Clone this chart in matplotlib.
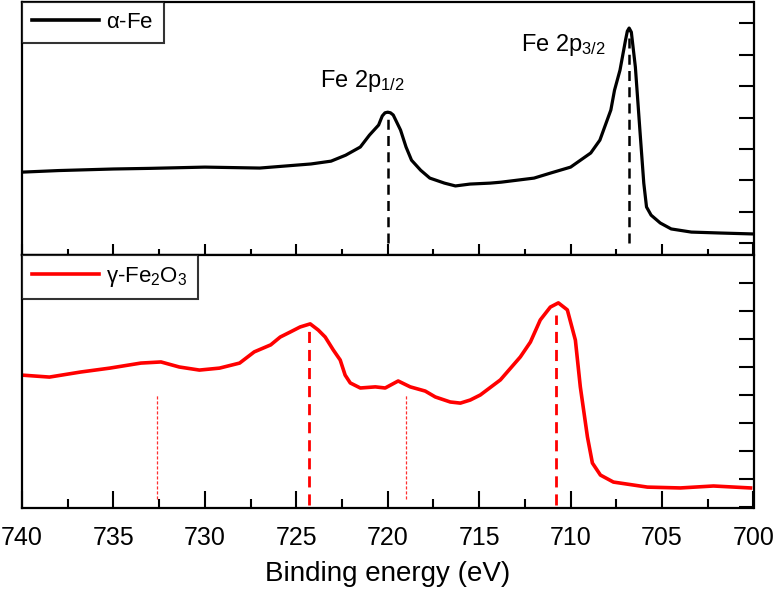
import matplotlib
matplotlib.use("Agg")
import matplotlib.pyplot as plt
from matplotlib.ticker import MultipleLocator

plt.rcParams['font.family'] = ['Liberation Sans', 'DejaVu Sans']
plt.rcParams['mathtext.fontset'] = 'custom'
plt.rcParams['mathtext.rm'] = 'Liberation Sans'
plt.rcParams['mathtext.it'] = 'Liberation Sans'

# alpha-Fe spectrum (binding energy eV, intensity a.u.)
fe_energy = [740.0, 738.0, 735.0, 733.0, 730.0, 727.0, 724.2, 723.1, 722.3, 721.5, 721.0,
             720.5, 720.3, 720.15, 720.0, 719.85, 719.7, 719.3, 719.0, 718.7, 718.2, 717.7, 716.9,
             716.3, 715.5, 714.4, 713.8, 712.0, 711.1, 710.0, 708.9, 708.4, 707.8,
             707.6, 707.3, 707.0, 706.9, 706.8, 706.68, 706.46, 706.2, 706.0, 705.85, 705.6,
             705.1, 704.5, 703.4, 701.8, 700.0]
fe_int = [2.26, 2.31, 2.36, 2.38, 2.42, 2.39, 2.52, 2.61, 2.80, 3.06, 3.44,
          3.76, 4.05, 4.15, 4.17, 4.15, 4.08, 3.60, 3.06, 2.64, 2.32, 2.07, 1.91,
          1.82, 1.88, 1.91, 1.94, 2.07, 2.23, 2.42, 2.87, 3.28, 4.24,
          4.87, 5.51, 6.46, 6.75, 6.85, 6.72, 5.61, 3.50, 1.91, 1.15, 0.89,
          0.64, 0.45, 0.35, 0.32, 0.29]

# gamma-Fe2O3 spectrum
ox_energy = [740.0, 738.5, 736.8, 735.2, 733.5, 732.4, 731.4, 730.3, 729.2, 728.1, 727.3,
             726.4, 725.88, 725.33, 724.79, 724.24, 723.80, 723.42, 722.98, 722.60,
             722.33, 722.05, 721.50, 720.68, 720.14, 719.43, 718.77, 717.95, 717.40,
             716.58, 716.03, 715.49, 714.94, 713.84, 712.75, 712.20, 711.66, 711.11,
             710.67, 710.18, 709.74, 709.47, 709.08, 708.81, 708.37, 707.66, 705.80,
             704.0, 702.19, 700.16]
ox_int = [4.71, 4.64, 4.82, 4.96, 5.14, 5.18, 5.00, 4.89, 4.96, 5.14, 5.54,
          5.79, 6.07, 6.25, 6.43, 6.54, 6.32, 6.07, 5.61, 5.25,
          4.71, 4.43, 4.25, 4.29, 4.25, 4.50, 4.29, 4.14, 3.93,
          3.75, 3.71, 3.82, 4.00, 4.54, 5.36, 5.89, 6.68, 7.14,
          7.29, 7.04, 5.96, 4.29, 2.50, 1.57, 1.14, 0.89, 0.71,
          0.68, 0.75, 0.68]

# reference lines
fe_peaks = [720.0, 706.8]
fe_peak_tops = [4.17, 6.85]
ox_main = [724.3, 710.8]
ox_main_tops = [6.4, 6.86]
ox_sat = [732.6, 719.0]
ox_sat_tops = [4.0, 4.0]

fig = plt.figure(figsize=(7.74, 5.99), dpi=100)
L, R = 22/774, 753.5/774
ax1 = fig.add_axes([L, 1-255/599, R-L, (255-2)/599])
ax2 = fig.add_axes([L, 1-508/599, R-L, (508-255)/599])

for ax in (ax1, ax2):
    ax.set_xlim(740, 700)
    ax.xaxis.set_major_locator(MultipleLocator(5))
    ax.xaxis.set_minor_locator(MultipleLocator(2.5))
    for s in ax.spines.values():
        s.set_linewidth(1.6)
    ax.yaxis.tick_right()
    ax.tick_params(axis='y', which='both', direction='in', length=11, width=1.5,
                   labelright=False, left=False, labelleft=False)

ax1.set_ylim(-0.38, 7.68)
ax1.set_yticks(range(0, 8))
ax2.set_ylim(-0.036, 9.0)
ax2.set_yticks(range(0, 9))

ax1.tick_params(axis='x', which='major', direction='in', length=8, width=1.5, labelbottom=False)
ax1.tick_params(axis='x', which='minor', direction='in', length=4, width=1.5)
ax2.tick_params(axis='x', which='major', direction='in', length=12.5, width=1.5,
                labelsize=18, pad=13)
ax2.tick_params(axis='x', which='minor', direction='in', length=6.5, width=1.5)

ax1.plot(fe_energy, fe_int, color='black', lw=2.3, label=r'$\alpha$-Fe')
for e, t in zip(fe_peaks, fe_peak_tops):
    ax1.plot([e, e], [0, t], color='black', lw=1.8, ls=(0, (4, 2.5)))

ax2.plot(ox_energy, ox_int, color='#ff0000', lw=2.6,
         label=r'$\gamma$-Fe$_\mathregular{2}$O$_\mathregular{3}$')
for e, t in zip(ox_main, ox_main_tops):
    ax2.plot([e, e], [0.08, t], color='#ff0000', lw=2.0, ls=(0, (4, 2.5)))
for e, t in zip(ox_sat, ox_sat_tops):
    ax2.plot([e, e], [0.3, t], color='#ff3030', lw=0.9, ls=(0, (2.5, 1.5)))

ax1.text(721.4, 4.75, r'Fe 2p$_\mathregular{1/2}$', fontsize=17, ha='center', va='bottom')
ax1.text(710.4, 5.9, r'Fe 2p$_\mathregular{3/2}$', fontsize=17, ha='center', va='bottom')

for ax in (ax1, ax2):
    leg = ax.legend(loc='upper left', fontsize=16, frameon=True, fancybox=False,
                    borderaxespad=0, handlelength=3.0, borderpad=0.45, handletextpad=0.35)
    leg.get_frame().set_edgecolor('black')
    leg.get_frame().set_linewidth(1.5)
    leg.get_lines()[0].set_linewidth(2.6)

ax2.set_xlabel('Binding energy (eV)', fontsize=20, labelpad=8)

fig.savefig('out.png', dpi=100)
